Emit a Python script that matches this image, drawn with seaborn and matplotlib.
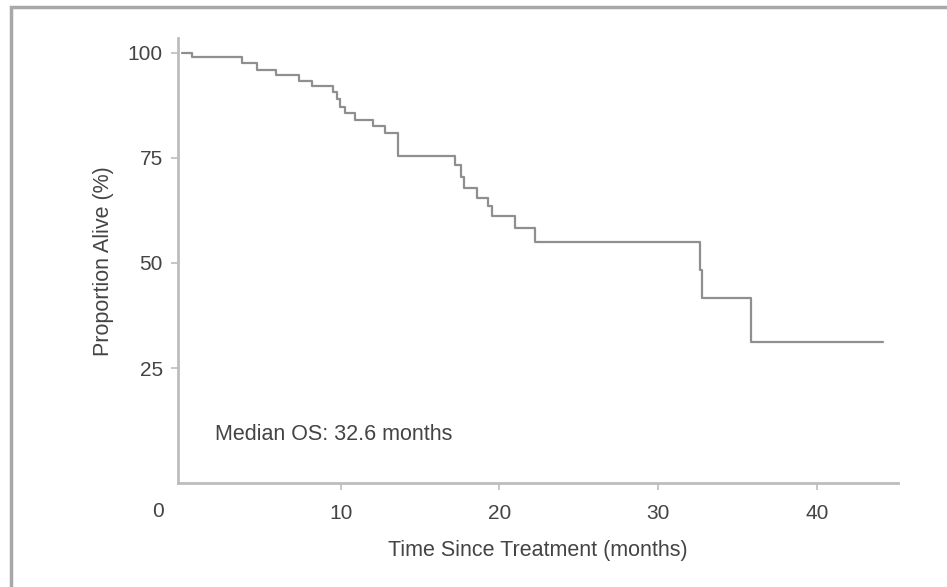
import pandas as pd
import seaborn as sns
import matplotlib.pyplot as plt
from matplotlib.patches import Rectangle


# Kaplan-Meier steps
months = [0, 0.6, 3.8, 4.7, 5.9, 7.4, 8.2, 9.5, 9.75, 9.95, 10.3, 10.9, 12.05, 12.8,
          13.6, 17.2, 17.55, 17.75, 18.6, 19.3, 19.55, 21.0, 22.25, 32.65, 32.75, 35.85, 44.2]
alive = [100, 99.0, 97.6, 96.0, 94.6, 93.2, 92.0, 90.7, 89.0, 87.2, 85.7, 84.1, 82.5, 81.0,
         75.4, 73.4, 70.5, 67.9, 65.5, 63.5, 61.1, 58.3, 55.0, 48.4, 41.7, 31.1, 31.1]

x_ticks = [10, 20, 30, 40]
y_ticks = [25, 50, 75, 100]
note = "Median OS: 32.6 months"

df = pd.DataFrame({"months": months, "alive": alive})

sns.set_style("ticks")
plt.rcParams['font.family'] = ['Liberation Sans', 'DejaVu Sans']

text_col = "#444444"
axis_col = "#bdbdbd"

fig = plt.figure(figsize=(9.47, 5.87), dpi=100)
ax = fig.add_axes([0.188, 0.1767, 0.76, 0.7586])

sns.lineplot(data=df, x="months", y="alive", drawstyle="steps-post", estimator=None,
             color="#8f8f8f", linewidth=1.6, ax=ax)

ax.set_xlim(-0.25, 45.1)
ax.set_ylim(-2.4, 103.5)
ax.set_xticks(x_ticks)
ax.set_yticks(y_ticks)
ax.tick_params(axis="both", colors=axis_col, labelcolor=text_col, labelsize=15,
               length=5, width=1.2)
ax.tick_params(axis="x", pad=10)
ax.tick_params(axis="y", pad=6)

sns.despine(ax=ax)
for side in ["left", "bottom"]:
    ax.spines[side].set_color(axis_col)
    ax.spines[side].set_linewidth(2)

ax.set_xlabel("Time Since Treatment (months)", fontsize=15.5, color=text_col, labelpad=12)
ax.set_ylabel("Proportion Alive (%)", fontsize=15.5, color=text_col, labelpad=10)

# shared origin label and the median note
ax.text(-1.5, -9.2, "0", fontsize=15, color=text_col, ha="center", va="center", clip_on=False)
ax.text(2.1, 9.1, note, fontsize=15.5, color=text_col, ha="left", va="center")

# grey frame round the figure
fig.patches.append(Rectangle((11 / 947, -0.05), 1.1, 1 - 7 / 587 + 0.05,
                             transform=fig.transFigure, fill=False,
                             edgecolor="#a8a8a8", linewidth=2.5))

fig.savefig("out.png", dpi=100)
